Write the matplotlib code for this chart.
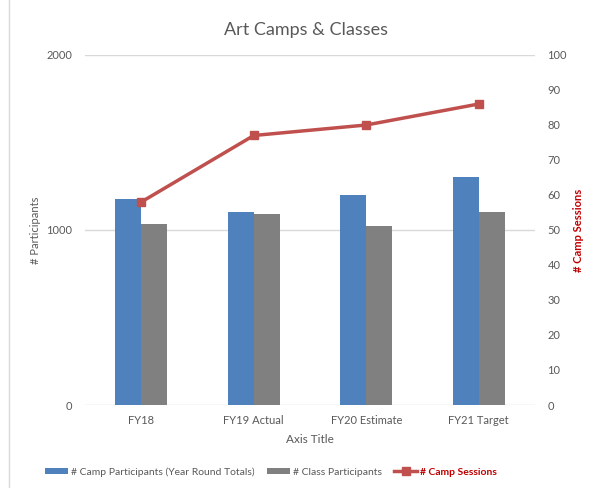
import matplotlib.pyplot as plt
import numpy as np
from matplotlib.patches import Rectangle
from matplotlib.lines import Line2D
from matplotlib.patches import Patch

plt.rcParams['font.family'] = ['Lato', 'DejaVu Sans']

categories = ["FY18", "FY19 Actual", "FY20 Estimate", "FY21 Target"]
camp_participants = [1175, 1100, 1200, 1300]
class_participants = [1035, 1090, 1025, 1105]
camp_sessions = [58, 77, 80, 86]

blue = "#4F81BD"
gray = "#808080"
red = "#C0504D"
text_gray = "#595959"
grid_gray = "#D9D9D9"

fig = plt.figure(figsize=(5.94, 4.88), dpi=100)
fig.patches.append(Rectangle((9 / 594, -0.01), 1.0, 1.02, transform=fig.transFigure,
                             fill=False, edgecolor="#D9D9D9", linewidth=1))

ax = fig.add_axes([85 / 594, 1 - 405 / 488, 450 / 594, 350 / 488])
x = np.arange(len(categories))
w = 0.23
ax.bar(x - w / 2, camp_participants, w, color=blue, zorder=2,
       label="# Camp Participants (Year Round Totals)")
ax.bar(x + w / 2, class_participants, w, color=gray, zorder=2,
       label="# Class Participants")
ax.set_xlim(-0.5, len(categories) - 0.5)
ax.set_ylim(0, 2000)
ax.set_yticks([0, 1000, 2000])
ax.yaxis.grid(True, color=grid_gray, linewidth=1, zorder=0)
ax.set_axisbelow(True)
for s in ax.spines.values():
    s.set_visible(False)
ax.tick_params(axis='both', length=0, colors=text_gray, labelsize=8)
ax.tick_params(axis='y', pad=9)
ax.tick_params(axis='x', pad=7)
ax.set_xticks(x)
ax.set_xticklabels(categories)
ax.set_ylabel("# Participants", color=text_gray, fontsize=8, labelpad=4)
ax.set_xlabel("Axis Title", color=text_gray, fontsize=8.5, labelpad=6)

ax2 = ax.twinx()
ax2.plot(x, camp_sessions, color=red, linewidth=2.5, marker='s', markersize=6,
         zorder=3, label="# Camp Sessions")
ax2.set_ylim(0, 100)
ax2.set_yticks(np.arange(0, 101, 10))
for s in ax2.spines.values():
    s.set_visible(False)
ax2.tick_params(axis='y', length=0, colors=text_gray, labelsize=8, pad=9)
ax2.set_ylabel("# Camp Sessions", color="#C00000", fontsize=8, fontweight='bold', labelpad=4)

fig.text(0.515, 1 - 30 / 488, "Art Camps & Classes", ha='center', va='center',
         fontsize=13, color=text_gray)

handles = [Patch(facecolor=blue, label="# Camp Participants (Year Round Totals)"),
           Patch(facecolor=gray, label="# Class Participants"),
           Line2D([0], [0], color=red, linewidth=2.5, marker='s', markersize=6,
                  label="# Camp Sessions")]
leg = fig.legend(handles=handles, loc='center', bbox_to_anchor=(271 / 594, 1 - 472 / 488),
                 ncol=3, frameon=False, fontsize=7.5, handlelength=2.2, handleheight=0.5,
                 columnspacing=1.2, handletextpad=0.3)
for t in leg.get_texts():
    t.set_color(text_gray)
leg.get_texts()[2].set_color("#C00000")
leg.get_texts()[2].set_fontweight('bold')

fig.savefig("out.png", dpi=100)
